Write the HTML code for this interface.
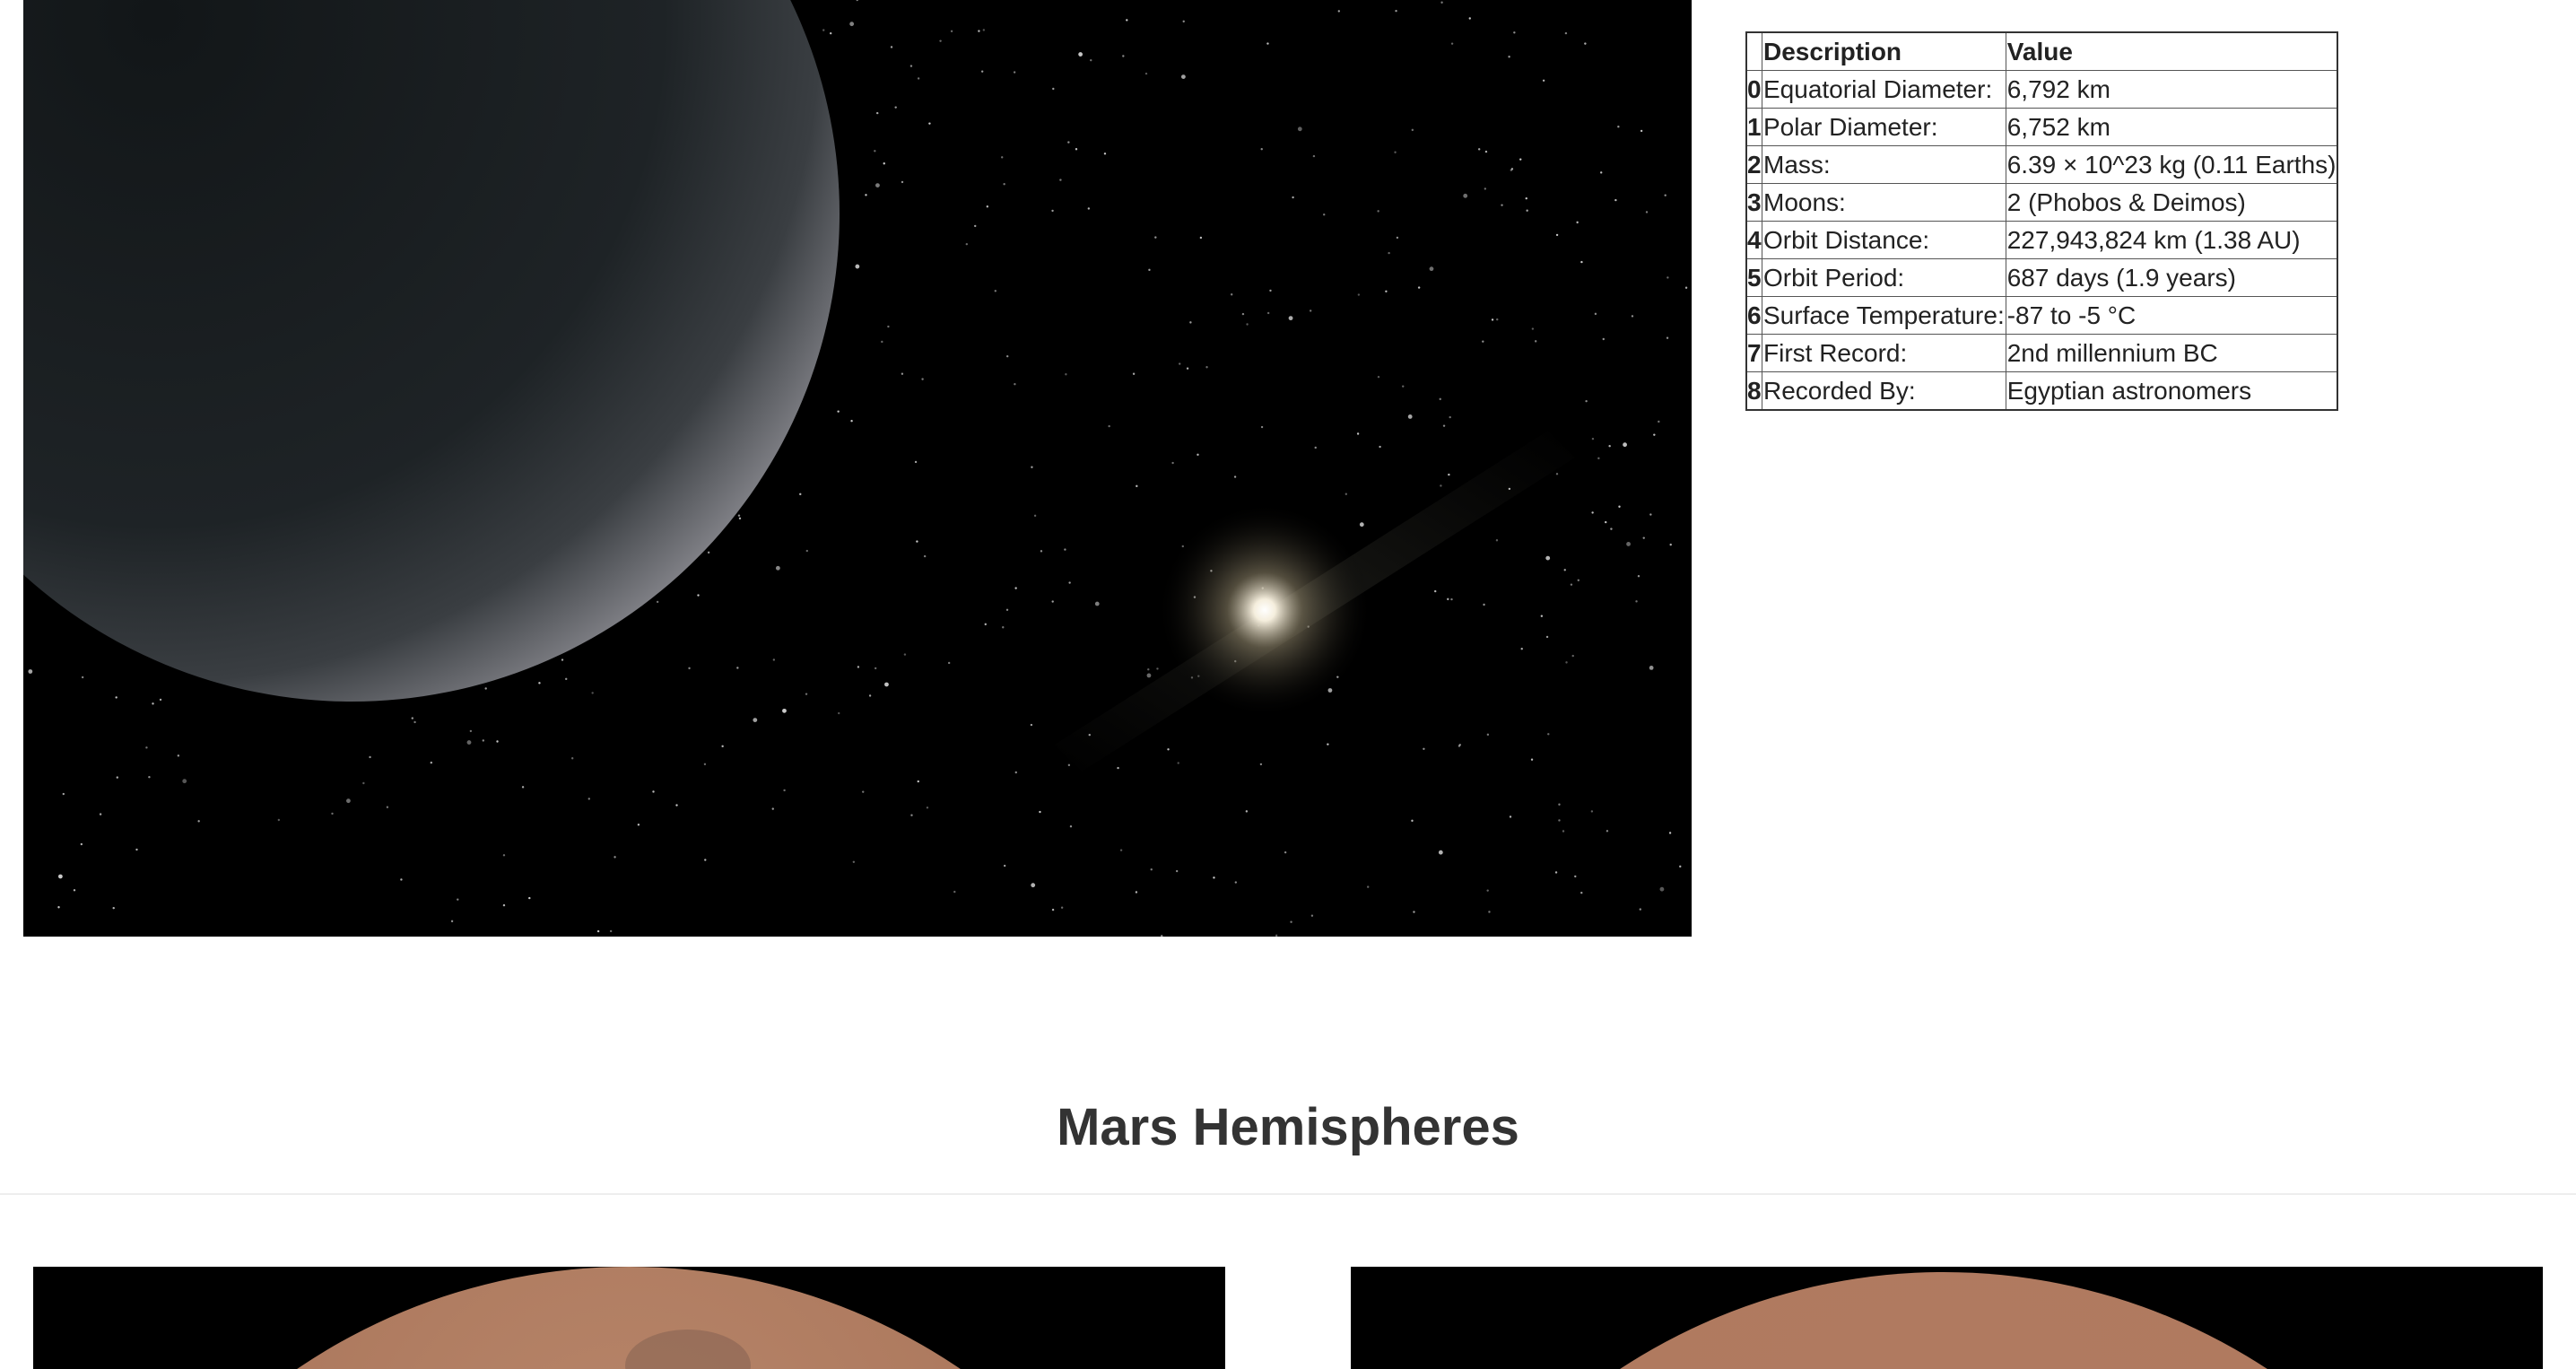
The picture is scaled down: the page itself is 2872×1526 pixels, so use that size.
<!DOCTYPE html>
<html><head><meta charset="utf-8">
<style>
html,body{margin:0;padding:0;background:#fff;width:2872px;height:1526px;overflow:hidden;position:relative;font-family:"Liberation Sans",sans-serif;color:#333}
#space{position:absolute;left:26px;top:0;width:1860px;height:1044px;background:#000;overflow:hidden}
#facts{position:absolute;left:1946px;top:35px;border-collapse:collapse;border:2px solid #333;font-size:28px;color:#222}
#facts td,#facts th{border:1px solid #555;padding:0 1px;height:41px;line-height:41px;white-space:nowrap;text-align:left}
#facts th{font-weight:bold}
#facts td.idx{font-weight:bold;width:16px;padding:0}
#title{position:absolute;left:0;width:2872px;top:1222px;text-align:center;font-size:58px;font-weight:bold;color:#333;margin:0;line-height:70px}
#rule{position:absolute;left:0;top:1330px;width:2872px;height:2px;background:#eee}
.mars{position:absolute;top:1412px;width:1329px;height:114px;background:#000;overflow:hidden}
</style></head><body>
<div id="space">
<svg width="1860" height="1044" viewBox="0 0 1860 1044">
<defs>
<radialGradient id="pl" cx="0.3" cy="0.3" r="0.8">
<stop offset="0" stop-color="#121618"/><stop offset="0.65" stop-color="#1e2326"/><stop offset="0.85" stop-color="#3a3e42"/><stop offset="1" stop-color="#8a8a90"/></radialGradient>
<radialGradient id="sun"><stop offset="0" stop-color="#fff"/><stop offset="0.1" stop-color="#f5eedd"/><stop offset="0.35" stop-color="#8a8066" stop-opacity="0.6"/><stop offset="1" stop-color="#000" stop-opacity="0"/></radialGradient>
<linearGradient id="streak" x1="0" y1="1" x2="1" y2="0"><stop offset="0" stop-color="#3a3a34" stop-opacity="0"/><stop offset="0.5" stop-color="#4a4a40" stop-opacity="0.5"/><stop offset="1" stop-color="#3a3a34" stop-opacity="0"/></linearGradient>
</defs>
<g id="stars"></g>
<polygon points="1150,830 1700,480 1730,510 1180,860" fill="url(#streak)" opacity="0.6"/>
<circle cx="1384" cy="680" r="120" fill="url(#sun)"/>
<circle cx="366" cy="238" r="544" fill="url(#pl)"/>
</svg>
</div>
<table id="facts">
<tr><th></th><th>Description</th><th>Value</th></tr>
<tr><td class="idx">0</td><td>Equatorial Diameter:</td><td>6,792 km</td></tr>
<tr><td class="idx">1</td><td>Polar Diameter:</td><td>6,752 km</td></tr>
<tr><td class="idx">2</td><td>Mass:</td><td>6.39 × 10^23 kg (0.11 Earths)</td></tr>
<tr><td class="idx">3</td><td>Moons:</td><td>2 (Phobos &amp; Deimos)</td></tr>
<tr><td class="idx">4</td><td>Orbit Distance:</td><td>227,943,824 km (1.38 AU)</td></tr>
<tr><td class="idx">5</td><td>Orbit Period:</td><td>687 days (1.9 years)</td></tr>
<tr><td class="idx">6</td><td>Surface Temperature:</td><td>-87 to -5 °C</td></tr>
<tr><td class="idx">7</td><td>First Record:</td><td>2nd millennium BC</td></tr>
<tr><td class="idx">8</td><td>Recorded By:</td><td>Egyptian astronomers</td></tr>
</table>
<h2 id="title">Mars Hemispheres</h2>
<div id="rule"></div>
<div class="mars" style="left:37px">
<svg width="1329" height="114"><defs><radialGradient id="m1" cx="0.5" cy="0.2" r="0.7"><stop offset="0" stop-color="#b8866a"/><stop offset="1" stop-color="#a06a50"/></radialGradient></defs>
<circle cx="664" cy="657" r="657" fill="url(#m1)"/><ellipse cx="730" cy="110" rx="70" ry="40" fill="#6a5048" opacity="0.35"/></svg></div>
<div class="mars" style="left:1506px">
<svg width="1329" height="114"><defs><radialGradient id="m2" cx="0.5" cy="0.2" r="0.7"><stop offset="0" stop-color="#b07a60"/><stop offset="1" stop-color="#b07a5e"/></radialGradient></defs>
<circle cx="661" cy="663" r="657" fill="url(#m2)"/></svg></div>
<script>
var g=document.getElementById('stars');var s=12345;
function rnd(){s=(s*16807)%2147483647;return s/2147483647;}
for(var i=0;i<500;i++){var x=rnd()*1860,y=rnd()*1044,r=rnd()<0.9?1.2:2.4;
var c=document.createElementNS('http://www.w3.org/2000/svg','circle');
c.setAttribute('cx',x);c.setAttribute('cy',y);c.setAttribute('r',r);c.setAttribute('fill','#ccc');c.setAttribute('opacity',0.4+rnd()*0.6);


g.appendChild(c);}
</script>
</body></html>
